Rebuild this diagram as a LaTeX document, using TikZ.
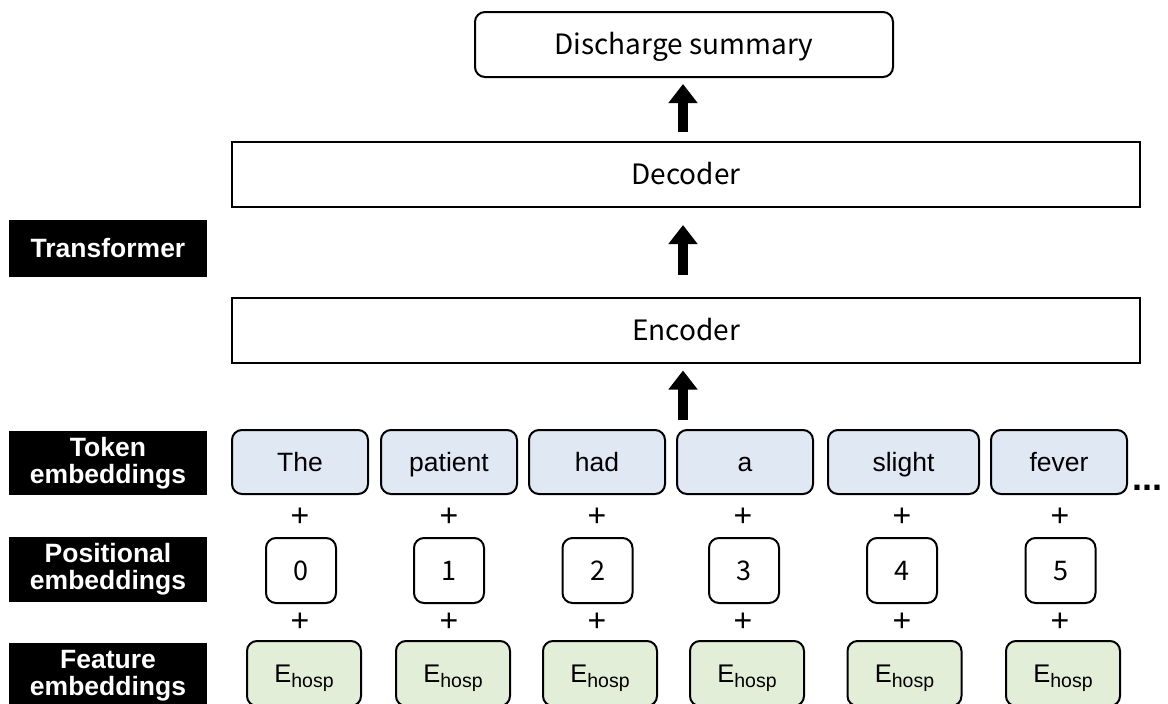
\documentclass[tikz,border=0pt]{standalone}
\usepackage{fontspec}
\setmainfont{Liberation Sans}
\newfontfamily\jpfont{Noto Sans CJK JP}
\usetikzlibrary{arrows.meta}
\definecolor{tokfill}{HTML}{DFE8F3}
\definecolor{featfill}{HTML}{E3EED9}
\tikzset{
  x=1pt, y=-1pt,
  boxline/.style={draw=black, line width=2pt},
  wide/.style={boxline, rectangle, minimum width=908pt, minimum height=65pt,
    text height=20pt, text depth=0pt,
    font=\jpfont\fontsize{28}{30}\selectfont},
  sidelabel/.style={fill=black, text=white, minimum width=198pt, align=center,
    inner sep=0pt, font=\bfseries\fontsize{26.5}{27}\selectfont},
  tokbox/.style={boxline, fill=tokfill, rounded corners=10pt, minimum height=64pt,
    minimum width=136pt, text height=18.8pt, text depth=0pt,
    font=\fontsize{26.5}{28}\selectfont},
  posbox/.style={boxline, rounded corners=10pt, minimum width=70pt, minimum height=65pt,
    text height=19.5pt, text depth=0pt, font=\jpfont\fontsize{27}{28}\selectfont},
  featbox/.style={boxline, fill=featfill, rounded corners=10pt, minimum width=114pt,
    minimum height=65pt, text height=18pt, text depth=0pt,
    font=\fontsize{25.5}{27}\selectfont},
  plus/.style={inner sep=0pt, font=\fontsize{32}{32}\selectfont},
  bigarrow/.style={line width=10pt, -{Triangle[width=28pt,length=19pt]}},
}
\newcommand{\Ehosp}{E\raisebox{-5pt}{\fontsize{19.5}{19.5}\selectfont hosp}}
\begin{document}
\begin{tikzpicture}
\useasboundingbox (0,0) rectangle (1168,704);

% output and the two transformer stacks
\node[boxline, rounded corners=10pt, minimum width=418pt, minimum height=65pt,
  text height=20pt, text depth=0pt,
  font=\jpfont\fontsize{28}{30}\selectfont] (summary) at (684,44.5) {Discharge summary};
\node[wide] (dec) at (686,174.5) {Decoder};
\node[wide] (enc) at (686,330) {Encoder};

% row labels on the left
\node[sidelabel, minimum height=57pt] (ltrans) at (108,248.5) {Transformer};
\node[sidelabel, minimum height=64pt] (ltok) at (108,463) {Token\\embeddings};
\node[sidelabel, minimum height=65pt] (lpos) at (108,569.5) {Positional\\embeddings};
\node[sidelabel, minimum height=65pt] (lfeat) at (108,675.5) {Feature\\embeddings};

% token embeddings
\node[tokbox] (t0) at (300,462) {The};
\node[tokbox] (t1) at (449,462) {patient};
\node[tokbox] (t2) at (597,462) {had};
\node[tokbox] (t3) at (745,462) {a};
\node[tokbox, minimum width=151pt] (t4) at (903.5,462) {slight};
\node[tokbox] (t5) at (1059,462) {fever};
\node[inner sep=0pt, anchor=base west, font=\bfseries\fontsize{36}{36}\selectfont] (dots) at (1132,490) {...};

% positional embeddings
\node[posbox] (p0) at (301,570.5) {0};
\node[posbox] (p1) at (449,570.5) {1};
\node[posbox] (p2) at (597.5,570.5) {2};
\node[posbox] (p3) at (744,570.5) {3};
\node[posbox] (p4) at (902,570.5) {4};
\node[posbox] (p5) at (1060.5,570.5) {5};

% feature embeddings
\node[featbox] (f0) at (304,673.5) {\Ehosp};
\node[featbox] (f1) at (453,673.5) {\Ehosp};
\node[featbox] (f2) at (600,673.5) {\Ehosp};
\node[featbox] (f3) at (747,673.5) {\Ehosp};
\node[featbox] (f4) at (904.5,673.5) {\Ehosp};
\node[featbox] (f5) at (1063,673.5) {\Ehosp};

% plus signs between the rows
\foreach \i/\x in {0/300,1/449,2/597,3/743,4/902,5/1060}{
  \node[plus] (pa\i) at (\x,517) {+};
  \node[plus] (pb\i) at (\x,622) {+};
}

% flow arrows
\coordinate (ax) at (683,0);
\draw[bigarrow, shorten <=9pt, shorten >=6pt] (dec.north -| ax) -- (summary.south -| ax);
\draw[bigarrow, shorten <=22pt, shorten >=17pt] (enc.north -| ax) -- (dec.south -| ax);
\draw[bigarrow, shorten <=9pt, shorten >=7pt] (t3.north -| ax) -- (enc.south -| ax);
\end{tikzpicture}
\end{document}
